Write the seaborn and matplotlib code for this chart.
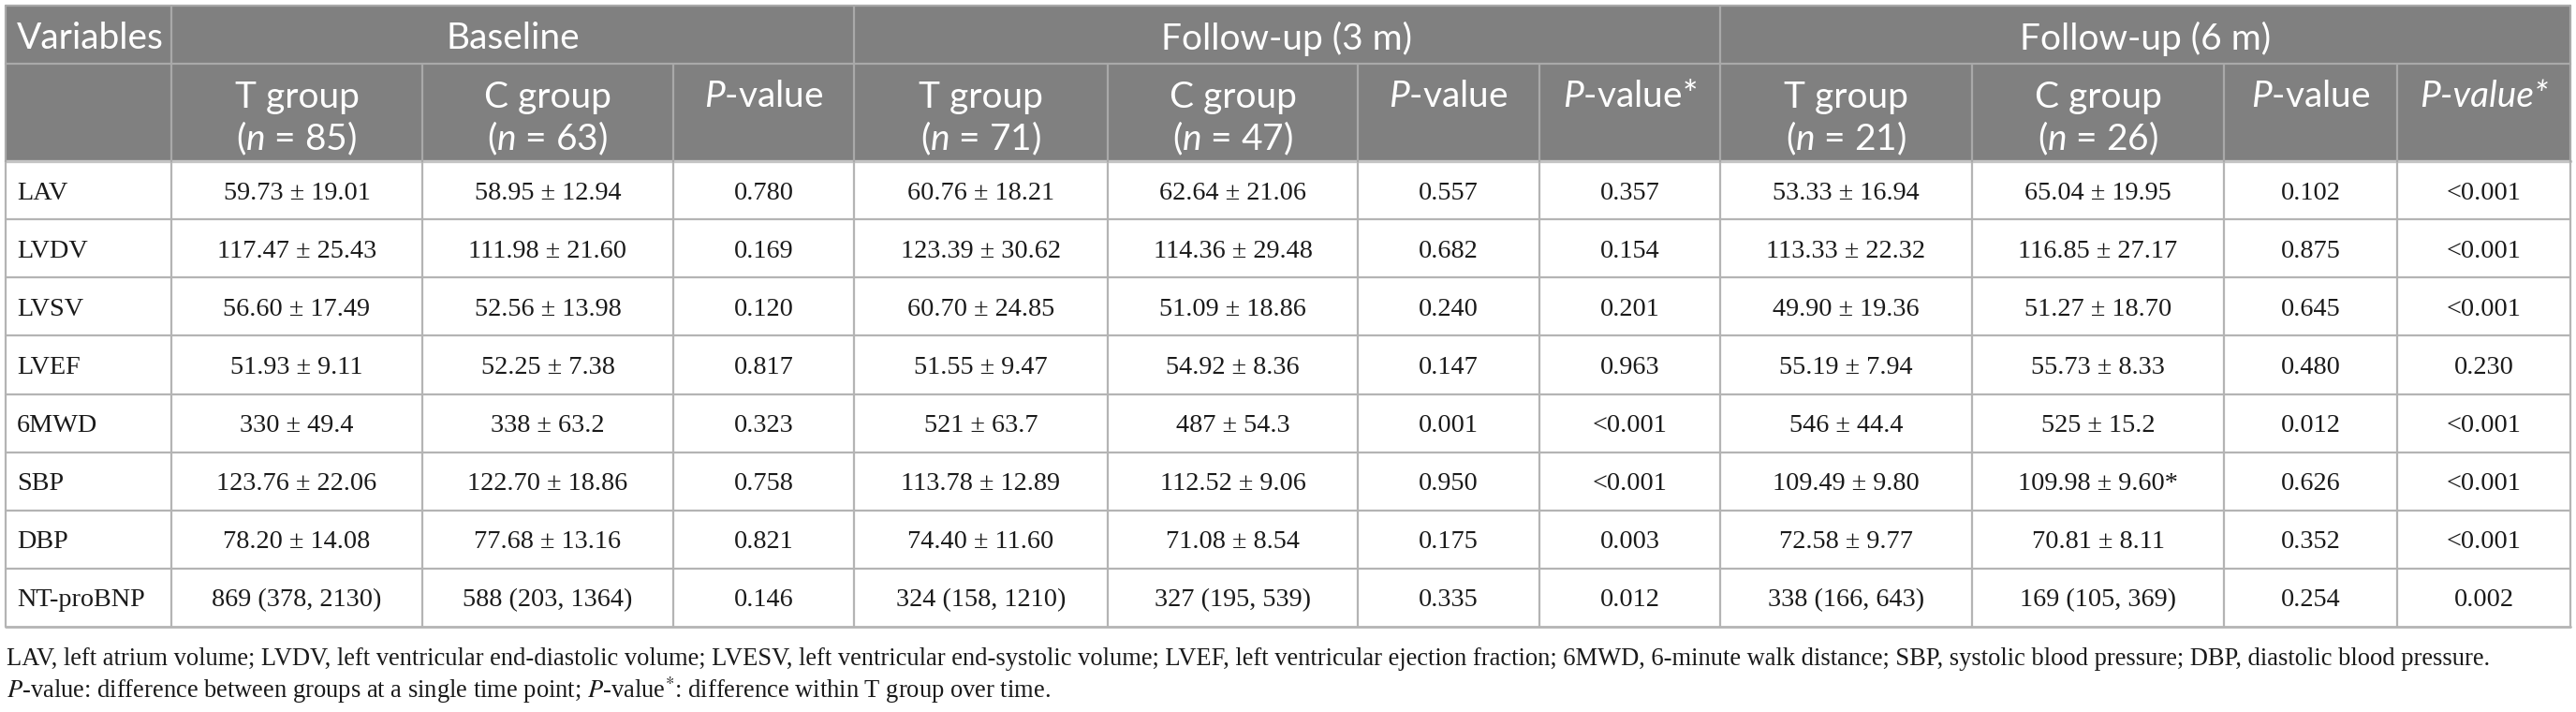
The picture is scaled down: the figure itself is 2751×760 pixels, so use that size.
import matplotlib
matplotlib.use("Agg")
import matplotlib.pyplot as plt
import seaborn as sns
from matplotlib.patches import Rectangle

# ---------------- data ----------------
variables = ["LAV", "LVDV", "LVSV", "LVEF", "6MWD", "SBP", "DBP", "NT-proBNP"]
baseline_T = ["59.73 ± 19.01", "117.47 ± 25.43", "56.60 ± 17.49", "51.93 ± 9.11",
              "330 ± 49.4", "123.76 ± 22.06", "78.20 ± 14.08", "869 (378, 2130)"]
baseline_C = ["58.95 ± 12.94", "111.98 ± 21.60", "52.56 ± 13.98", "52.25 ± 7.38",
              "338 ± 63.2", "122.70 ± 18.86", "77.68 ± 13.16", "588 (203, 1364)"]
baseline_p = ["0.780", "0.169", "0.120", "0.817", "0.323", "0.758", "0.821", "0.146"]
fu3_T = ["60.76 ± 18.21", "123.39 ± 30.62", "60.70 ± 24.85", "51.55 ± 9.47",
         "521 ± 63.7", "113.78 ± 12.89", "74.40 ± 11.60", "324 (158, 1210)"]
fu3_C = ["62.64 ± 21.06", "114.36 ± 29.48", "51.09 ± 18.86", "54.92 ± 8.36",
         "487 ± 54.3", "112.52 ± 9.06", "71.08 ± 8.54", "327 (195, 539)"]
fu3_p = ["0.557", "0.682", "0.240", "0.147", "0.001", "0.950", "0.175", "0.335"]
fu3_pstar = ["0.357", "0.154", "0.201", "0.963", "<0.001", "<0.001", "0.003", "0.012"]
fu6_T = ["53.33 ± 16.94", "113.33 ± 22.32", "49.90 ± 19.36", "55.19 ± 7.94",
         "546 ± 44.4", "109.49 ± 9.80", "72.58 ± 9.77", "338 (166, 643)"]
fu6_C = ["65.04 ± 19.95", "116.85 ± 27.17", "51.27 ± 18.70", "55.73 ± 8.33",
         "525 ± 15.2", "109.98 ± 9.60*", "70.81 ± 8.11", "169 (105, 369)"]
fu6_p = ["0.102", "0.875", "0.645", "0.480", "0.012", "0.626", "0.352", "0.254"]
fu6_pstar = ["<0.001", "<0.001", "<0.001", "0.230", "<0.001", "<0.001", "<0.001", "0.002"]

group_titles = ["Baseline", "Follow-up (3 m)", "Follow-up (6 m)"]
group_n = ["85", "63", "71", "47", "21", "26"]

footnote1 = ("LAV, left atrium volume; LVDV, left ventricular end-diastolic volume; "
             "LVESV, left ventricular end-systolic volume; LVEF, left ventricular ejection "
             "fraction; 6MWD, 6-minute walk distance; SBP, systolic blood pressure; "
             "DBP, diastolic blood pressure.")
footnote2 = ("$P$-value: difference between groups at a single time point; "
             "$P$-value$^{*}$: difference within T group over time.")

columns = [baseline_T, baseline_C, baseline_p, fu3_T, fu3_C, fu3_p, fu3_pstar,
           fu6_T, fu6_C, fu6_p, fu6_pstar]

# ---------------- style ----------------
sns.set_theme(style="white")
plt.rcParams["font.family"] = ["Liberation Serif", "DejaVu Serif"]
plt.rcParams["mathtext.fontset"] = "custom"
plt.rcParams["mathtext.rm"] = "Lato"
plt.rcParams["mathtext.it"] = "Lato:italic"
plt.rcParams["mathtext.bf"] = "Lato:bold"

W, H = 2751, 760
fig = plt.figure(figsize=(W / 100, H / 100), dpi=100)
ax = fig.add_axes([0, 0, 1, 1])
ax.set_xlim(0, W)
ax.set_ylim(H, 0)
ax.axis("off")
renderer = fig.canvas.get_renderer()

HEAD_FONT = "Lato"
BODY_FONT = ["Liberation Serif", "DejaVu Serif"]
HEAD_BG = "#808080"
LINE_BODY = "#b4b4b4"
LINE_HEAD = "#a9a9a9"


def fit_size(text, target, **kw):
    t = ax.text(0, 0, text, fontsize=20, **kw)
    w = t.get_window_extent(renderer).width
    t.remove()
    return 20 * target / w


head_fs = 0.5 * (fit_size("Follow-up (6 m)", 276, family=HEAD_FONT)
                 + fit_size("Variables", 153, family=HEAD_FONT))
foot_fs = fit_size(footnote1, 2658, family=BODY_FONT)
cell_fs = fit_size("59.73 ± 19.01", 157, family=BODY_FONT)

# ---------------- geometry ----------------
xb = [6, 183, 451, 719, 912, 1183, 1450, 1644, 1837, 2106, 2375, 2560, 2745]
y_top, y_h1, y_h2, y_bot = 6, 68, 172, 669
n_rows = len(variables)
row_h = (y_bot - y_h2) / n_rows

# header background
ax.add_patch(Rectangle((xb[0], y_top), xb[-1] - xb[0], y_h2 - y_top,
                       facecolor=HEAD_BG, edgecolor="none", zorder=1))

lw = 1.6
# horizontal lines
ax.plot([xb[0], xb[-1]], [y_top, y_top], color=LINE_HEAD, lw=lw, zorder=3)
ax.plot([xb[0], xb[-1]], [y_h1, y_h1], color=LINE_HEAD, lw=lw, zorder=3)
ax.plot([xb[0], xb[-1]], [y_h2, y_h2], color="#c4c4c4", lw=2.4, zorder=3)
for i in range(1, n_rows + 1):
    y = y_h2 + i * row_h
    ax.plot([xb[0], xb[-1]], [y, y], color=LINE_BODY, lw=lw if i < n_rows else 2.0, zorder=3)

# vertical lines
group_edges = [0, 1, 4, 8, 12]
for k, x in enumerate(xb):
    ax.plot([x, x], [y_h2, y_bot], color=LINE_BODY, lw=lw, zorder=3)
    ax.plot([x, x], [y_h1, y_h2], color=LINE_HEAD, lw=lw, zorder=3)
    if k in group_edges:
        ax.plot([x, x], [y_top, y_h1], color=LINE_HEAD, lw=lw, zorder=3)

# ---------------- header text ----------------
hc = "white"
ax.text(18, 38, "Variables", family=HEAD_FONT, fontsize=head_fs,
        color=hc, ha="left", va="center_baseline", zorder=4)
spans = [(1, 4), (4, 8), (8, 12)]
for title, (a, b) in zip(group_titles, spans):
    ax.text((xb[a] + xb[b]) / 2, 38, title, family=HEAD_FONT,
            fontsize=head_fs, color=hc, ha="center", va="center_baseline", zorder=4)

line1_y, line2_y = 100, 144
ni = 0
for g, (a, b) in enumerate(spans):
    for c in range(a, b):
        pos = c - a
        cx = (xb[c] + xb[c + 1]) / 2
        if pos < 2:
            grp = "T group" if pos == 0 else "C group"
            ax.text(cx, line1_y, grp, family=HEAD_FONT, fontsize=head_fs, color=hc,
                    ha="center", va="center_baseline", zorder=4)
            ax.text(cx, line2_y, "($n$ = " + group_n[ni] + ")", family=HEAD_FONT,
                    fontsize=head_fs, color=hc, ha="center", va="center_baseline", zorder=4)
            ni += 1
        elif pos == 2:
            ax.text(cx, line1_y, "$P$-value", family=HEAD_FONT, fontsize=head_fs,
                    color=hc, ha="center", va="center_baseline", zorder=4)
        else:
            if g == 2:
                ax.text(cx, line1_y, "P-value*", family=HEAD_FONT, fontsize=head_fs,
                        style="italic", color=hc, ha="center", va="center_baseline", zorder=4)
            else:
                ax.text(cx, line1_y, "$P$-value*", family=HEAD_FONT, fontsize=head_fs,
                        color=hc, ha="center", va="center_baseline", zorder=4)

# ---------------- body text ----------------
tc = "#1a1a1a"
for i, var in enumerate(variables):
    cy = y_h2 + (i + 0.5) * row_h
    ax.text(18, cy, var, family=BODY_FONT, fontsize=cell_fs, color=tc,
            ha="left", va="center_baseline", zorder=4)
    for j, col in enumerate(columns):
        cx = (xb[j + 1] + xb[j + 2]) / 2
        ax.text(cx, cy, col[i], family=BODY_FONT, fontsize=cell_fs, color=tc,
                ha="center", va="center_baseline", zorder=4)

# ---------------- footnotes ----------------
ax.text(7, 701, footnote1, family=BODY_FONT, fontsize=foot_fs, color=tc,
        ha="left", va="center_baseline")
ax.text(7, 733, footnote2, family=BODY_FONT, fontsize=foot_fs, color=tc,
        ha="left", va="center_baseline", math_fontfamily="stix")

fig.savefig("out.png", dpi=100)
